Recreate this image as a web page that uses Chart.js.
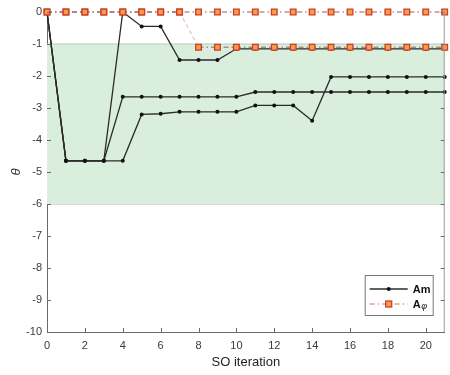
<!DOCTYPE html>
<html>
<head>
<meta charset="utf-8">
<script src="https://cdn.jsdelivr.net/npm/chart.js@4.4.1/dist/chart.umd.min.js"></script>
<style>
  html, body { margin: 0; padding: 0; background: #ffffff; }
  #wrap { width: 450px; height: 375px; }
</style>
</head>
<body>
<div id="wrap"><canvas id="chart" width="450" height="375"></canvas></div>
<script>
// SO iterations 0..21
const iterations = [0,1,2,3,4,5,6,7,8,9,10,11,12,13,14,15,16,17,18,19,20,21];

// Am runs
const amRun1 = [0,-4.65,-4.65,-4.65,0,-0.45,-0.45,-1.5,-1.5,-1.5,-1.15,-1.15,-1.15,-1.15,-1.15,-1.15,-1.15,-1.15,-1.15,-1.15,-1.15,-1.15];
const amRun2 = [0,-4.65,-4.65,-4.65,-2.65,-2.65,-2.65,-2.65,-2.65,-2.65,-2.65,-2.5,-2.5,-2.5,-2.5,-2.5,-2.5,-2.5,-2.5,-2.5,-2.5,-2.5];
const amRun3 = [0,-4.65,-4.65,-4.65,-4.65,-3.2,-3.18,-3.12,-3.12,-3.12,-3.12,-2.92,-2.92,-2.92,-3.4,-2.03,-2.03,-2.03,-2.03,-2.03,-2.03,-2.03];

// A-phi runs
const aphiRun1 = [0,0,0,0,0,0,0,0,0,0,0,0,0,0,0,0,0,0,0,0,0,0];
const aphiRun2 = [0,0,0,0,0,0,0,0,-1.1,-1.1,-1.1,-1.1,-1.1,-1.1,-1.1,-1.1,-1.1,-1.1,-1.1,-1.1,-1.1,-1.1];

// Shaded admissible range of theta
const bandUpper = -1;
const bandLower = -6;

// Axis ticks
const xTicks = [0,2,4,6,8,10,12,14,16,18,20];
const yTicks = [0,-1,-2,-3,-4,-5,-6,-7,-8,-9,-10];

const FONT = "'Liberation Sans', Arial, sans-serif";
const xMin = iterations[0];
const xMax = iterations[iterations.length - 1];

const toPoints = (ys) => ys.map((y, i) => ({ x: iterations[i], y }));
const bandEdge = (y) => [{ x: xMin, y }, { x: xMax, y }];

const amStyle = {
  borderColor: '#2b2b2b',
  borderWidth: 1.3,
  pointRadius: 2,
  pointHoverRadius: 2,
  pointBackgroundColor: '#111111',
  pointBorderWidth: 0,
  tension: 0,
  fill: false,
  clip: false
};

const aphiStyle = {
  borderColor: '#94605a',
  borderWidth: 1,
  borderDash: [5, 3, 1.5, 3],
  pointStyle: 'rect',
  pointRadius: 4,
  pointHoverRadius: 4,
  pointBackgroundColor: '#f0a048',
  pointBorderColor: '#d03a28',
  pointBorderWidth: 1.3,
  tension: 0,
  fill: false,
  clip: false,
  segment: {
    borderColor: (c) => (c.p0.parsed.y !== c.p1.parsed.y ? '#e9a2b2' : undefined),
    borderDash: (c) => (c.p0.parsed.y !== c.p1.parsed.y ? [4, 3] : undefined)
  }
};

// Small inward tick marks on the plot frame and the right frame edge
const innerTicks = {
  id: 'innerTicks',
  afterDatasetsDraw(chart) {
    const { ctx, chartArea: a, scales } = chart;
    ctx.save();
    ctx.strokeStyle = '#6a6a6a';
    ctx.lineWidth = 1;
    ctx.beginPath();
    xTicks.forEach(v => {
      const px = Math.round(scales.x.getPixelForValue(v)) + 0.5;
      ctx.moveTo(px, a.bottom);
      ctx.lineTo(px, a.bottom - 4);
    });
    yTicks.forEach(v => {
      const py = Math.round(scales.y.getPixelForValue(v)) + 0.5;
      ctx.moveTo(a.left, py);
      ctx.lineTo(a.left + 4, py);
      ctx.moveTo(a.right, py);
      ctx.lineTo(a.right - 4, py);
    });
    ctx.stroke();
    ctx.strokeStyle = '#9a9a9a';
    ctx.beginPath();
    ctx.moveTo(a.right - 0.5, a.top);
    ctx.lineTo(a.right - 0.5, a.bottom);
    ctx.stroke();
    ctx.restore();
  }
};

// Boxed legend in the lower right corner of the plot
const boxLegend = {
  id: 'boxLegend',
  afterDraw(chart) {
    const { ctx, chartArea: a } = chart;
    const bx = a.right - 80, by = a.bottom - 57, bw = 68, bh = 40;
    ctx.save();
    ctx.fillStyle = '#ffffff';
    ctx.fillRect(bx, by, bw, bh);
    ctx.strokeStyle = '#777777';
    ctx.lineWidth = 1;
    ctx.strokeRect(bx + 0.5, by + 0.5, bw, bh);

    const x0 = bx + 5, x1 = bx + 43, xm = (x0 + x1) / 2;
    const r1 = by + 14, r2 = by + 29;

    // Am sample
    ctx.strokeStyle = amStyle.borderColor;
    ctx.lineWidth = amStyle.borderWidth;
    ctx.beginPath();
    ctx.moveTo(x0, r1); ctx.lineTo(x1, r1);
    ctx.stroke();
    ctx.fillStyle = amStyle.pointBackgroundColor;
    ctx.beginPath();
    ctx.arc(xm, r1, 2, 0, Math.PI * 2);
    ctx.fill();

    // A-phi sample
    ctx.strokeStyle = '#d06a70';
    ctx.lineWidth = 1;
    ctx.setLineDash(aphiStyle.borderDash);
    ctx.beginPath();
    ctx.moveTo(x0, r2); ctx.lineTo(x1, r2);
    ctx.stroke();
    ctx.setLineDash([]);
    ctx.fillStyle = aphiStyle.pointBackgroundColor;
    ctx.strokeStyle = aphiStyle.pointBorderColor;
    ctx.lineWidth = 1.3;
    ctx.fillRect(xm - 3, r2 - 3, 6, 6);
    ctx.strokeRect(xm - 3, r2 - 3, 6, 6);

    ctx.fillStyle = '#111111';
    ctx.textBaseline = 'middle';
    ctx.textAlign = 'left';
    ctx.font = 'bold 11px ' + FONT;
    ctx.fillText('Am', x1 + 5, r1 + 1);
    ctx.fillText('A', x1 + 5, r2 + 1);
    const aw = ctx.measureText('A').width;
    ctx.font = 'italic 9px ' + FONT;
    ctx.fillText('φ', x1 + 5 + aw + 0.5, r2 + 2);
    ctx.restore();
  }
};

new Chart(document.getElementById('chart'), {
  type: 'line',
  data: {
    datasets: [
      Object.assign({ label: 'Aφ', data: toPoints(aphiRun1) }, aphiStyle),
      Object.assign({ label: 'Aφ', data: toPoints(aphiRun2) }, aphiStyle),
      Object.assign({ label: 'Am', data: toPoints(amRun1) }, amStyle),
      Object.assign({ label: 'Am', data: toPoints(amRun2) }, amStyle),
      Object.assign({ label: 'Am', data: toPoints(amRun3) }, amStyle),
      {
        label: 'band-upper',
        data: bandEdge(bandUpper),
        borderColor: '#b9cbbb',
        borderWidth: 1,
        pointRadius: 0,
        backgroundColor: '#d9eedd',
        fill: '+1'
      },
      {
        label: 'band-lower',
        data: bandEdge(bandLower),
        borderColor: '#a3c2a5',
        borderWidth: 1.2,
        pointRadius: 0,
        fill: false
      }
    ]
  },
  options: {
    responsive: false,
    animation: false,
    devicePixelRatio: 1,
    layout: { padding: { top: 12, right: 1, bottom: 0, left: 0 } },
    plugins: { legend: { display: false }, tooltip: { enabled: false } },
    scales: {
      x: {
        type: 'linear',
        min: xMin,
        max: xMax,
        afterBuildTicks: (s) => { s.ticks = xTicks.map(v => ({ value: v })); },
        afterFit: (s) => { s.height = 43; },
        grid: { drawOnChartArea: false, drawTicks: false },
        border: { color: '#6a6a6a', width: 1 },
        ticks: { padding: 7, color: '#3a3a3a', font: { family: FONT, size: 11 }, maxRotation: 0, autoSkip: false },
        title: { display: true, text: 'SO iteration', color: '#222222', font: { family: FONT, size: 13 }, padding: { top: 0, bottom: 5 } }
      },
      y: {
        type: 'linear',
        min: -10,
        max: 0,
        afterBuildTicks: (s) => { s.ticks = yTicks.map(v => ({ value: v })); },
        afterFit: (s) => { s.width = 47; },
        grid: { drawOnChartArea: false, drawTicks: false },
        border: { color: '#6a6a6a', width: 1 },
        ticks: { padding: 5, color: '#3a3a3a', font: { family: FONT, size: 11 }, autoSkip: false },
        title: { display: true, text: 'θ', color: '#333333', font: { family: FONT, size: 13, style: 'italic' }, padding: { top: 9, bottom: 0 } }
      }
    }
  },
  plugins: [innerTicks, boxLegend]
});
</script>
</body>
</html>
